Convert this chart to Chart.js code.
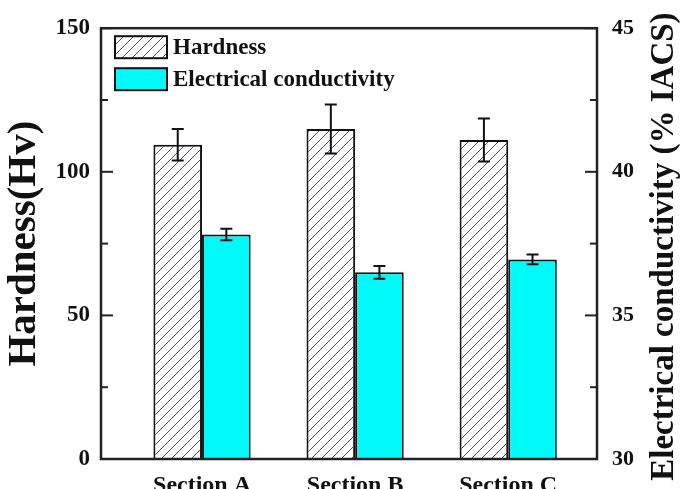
<!DOCTYPE html>
<html lang="en">
<head>
    <meta charset="UTF-8">
    <title>Hardness and Electrical conductivity</title>
    <script src="https://cdn.jsdelivr.net/npm/chart.js"></script>
    <style>
        body { margin: 0; background: #fff; }
        #wrap { width: 683px; height: 489px; }
    </style>
</head>
<body>
    <div id="wrap"><canvas id="myChart"></canvas></div>
    <script>
        const categories = ['Section A', 'Section B', 'Section C'];
        const hardness = [109.4, 114.9, 111.1];
        const hardnessErr = [5.5, 8.5, 7.5];
        const conductivity = [37.82, 36.5, 36.95];
        const conductivityErr = [0.2, 0.22, 0.17];
        const leftTicks = [0, 50, 100, 150];
        const rightTicks = [30, 35, 40, 45];
        const rightTitle = 'Electrical conductivity (% IACS)';

        const serif = '"Liberation Serif", "DejaVu Serif", serif';

        // diagonal hatch for the hardness bars
        function makeHatch() {
            const c = document.createElement('canvas');
            c.width = 10; c.height = 10;
            const g = c.getContext('2d');
            g.fillStyle = '#fff';
            g.fillRect(0, 0, 10, 10);
            g.strokeStyle = '#4e4e6e';
            g.lineWidth = 1;
            g.beginPath();
            g.moveTo(0, 10); g.lineTo(10, 0);
            g.moveTo(-5, 5); g.lineTo(5, -5);
            g.moveTo(5, 15); g.lineTo(15, 5);
            g.stroke();
            return g.createPattern(c, 'repeat');
        }

        const extras = {
            id: 'extras',
            afterDatasetsDraw(chart) {
                const ctx = chart.ctx;
                const a = chart.chartArea;
                const errs = [hardnessErr, conductivityErr];
                ctx.save();
                // error bars
                ctx.strokeStyle = '#111';
                ctx.lineWidth = 2;
                chart.data.datasets.forEach((ds, di) => {
                    const meta = chart.getDatasetMeta(di);
                    const ys = chart.scales[ds.yAxisID];
                    meta.data.forEach((bar, i) => {
                        const v = ds.data[i].y;
                        const top = ys.getPixelForValue(v + errs[di][i]);
                        const bot = ys.getPixelForValue(v - errs[di][i]);
                        ctx.beginPath();
                        ctx.moveTo(bar.x, top); ctx.lineTo(bar.x, bot);
                        ctx.moveTo(bar.x - 6, top); ctx.lineTo(bar.x + 6, top);
                        ctx.moveTo(bar.x - 6, bot); ctx.lineTo(bar.x + 6, bot);
                        ctx.stroke();
                    });
                });
                // frame
                ctx.lineWidth = 2.5;
                ctx.strokeStyle = '#222';
                ctx.strokeRect(a.left, a.top, a.right - a.left, a.bottom - a.top);
                // inward tick marks
                ctx.lineWidth = 2;
                ['y', 'y2'].forEach(id => {
                    const s = chart.scales[id];
                    const x0 = id === 'y' ? a.left : a.right;
                    const dir = id === 'y' ? 1 : -1;
                    s.ticks.forEach(t => {
                        const py = s.getPixelForValue(t.value);
                        const len = t.label ? 12 : 7;
                        ctx.beginPath();
                        ctx.moveTo(x0, py); ctx.lineTo(x0 + dir * len, py);
                        ctx.stroke();
                    });
                });
                // legend inside plot
                ctx.font = 'bold 23px ' + serif;
                ctx.textBaseline = 'middle';
                chart.data.datasets.forEach((ds, di) => {
                    const bx = a.left + 14, by = a.top + 8 + di * 32;
                    ctx.fillStyle = ds.backgroundColor;
                    ctx.fillRect(bx, by, 52, 22);
                    ctx.lineWidth = 2;
                    ctx.strokeStyle = '#111';
                    ctx.strokeRect(bx, by, 52, 22);
                    ctx.fillStyle = '#111';
                    ctx.textAlign = 'left';
                    ctx.fillText(ds.label, bx + 58, by + 12);
                });
                // right axis title, reading bottom to top
                ctx.translate(664, (a.top + a.bottom) / 2 + 3);
                ctx.rotate(-Math.PI / 2);
                ctx.textAlign = 'center';
                ctx.font = 'bold 33px ' + serif;
                ctx.fillText(rightTitle, 0, 0);
                ctx.restore();
            }
        };

        const ctx = document.getElementById('myChart').getContext('2d');
        const myChart = new Chart(ctx, {
            type: 'bar',
            data: {
                datasets: [
                    {
                        label: 'Hardness',
                        data: hardness.map((v, i) => ({ x: i + 1, y: v })),
                        backgroundColor: makeHatch(),
                        borderColor: '#111',
                        borderWidth: 2,
                        yAxisID: 'y'
                    },
                    {
                        label: 'Electrical conductivity',
                        data: conductivity.map((v, i) => ({ x: i + 1, y: v })),
                        backgroundColor: '#00fafa',
                        borderColor: '#111',
                        borderWidth: 2,
                        yAxisID: 'y2'
                    }
                ]
            },
            options: {
                responsive: true,
                maintainAspectRatio: false,
                animation: false,
                categoryPercentage: 0.635,
                barPercentage: 1.0,
                layout: { padding: { top: 27, left: 0, right: 0, bottom: 0 } },
                plugins: {
                    legend: { display: false },
                    tooltip: { enabled: false }
                },
                scales: {
                    x: {
                        type: 'linear',
                        min: 0.34,
                        max: 3.58,
                        offset: false,
                        grid: { display: false, drawTicks: false, offset: false },
                        border: { display: false },
                        afterBuildTicks: s => { s.ticks = categories.map((c, i) => ({ value: i + 1 })); },
                        afterFit: s => { s.height = 30; },
                        ticks: {
                            padding: 12,
                            color: '#111',
                            font: { family: serif, size: 24, weight: 'bold' },
                            callback: v => categories[v - 1]
                        }
                    },
                    y: {
                        position: 'left',
                        min: 0,
                        max: 150,
                        grid: { display: false, drawTicks: false },
                        border: { display: false },
                        afterBuildTicks: s => { s.ticks = [0, 25, 50, 75, 100, 125, 150].map(v => ({ value: v })); },
                        afterFit: s => { s.width = 101; },
                        ticks: {
                            padding: 11,
                            autoSkip: false,
                            color: '#111',
                            font: { family: serif, size: 23, weight: 'bold' },
                            callback: v => leftTicks.includes(v) ? String(v) : ''
                        },
                        title: {
                            display: true,
                            text: 'Hardness(Hv)',
                            color: '#111',
                            padding: { top: 0, bottom: 0 },
                            font: { family: serif, size: 41, weight: 'bold' }
                        }
                    },
                    y2: {
                        position: 'right',
                        min: 30,
                        max: 45,
                        grid: { display: false, drawTicks: false },
                        border: { display: false },
                        afterBuildTicks: s => { s.ticks = [30, 32.5, 35, 37.5, 40, 42.5, 45].map(v => ({ value: v })); },
                        afterFit: s => { s.width = 86; },
                        ticks: {
                            padding: 15,
                            autoSkip: false,
                            color: '#111',
                            font: { family: serif, size: 22, weight: 'bold' },
                            callback: v => rightTicks.includes(v) ? String(v) : ''
                        }
                    }
                }
            },
            plugins: [extras]
        });
    </script>
</body>
</html>
